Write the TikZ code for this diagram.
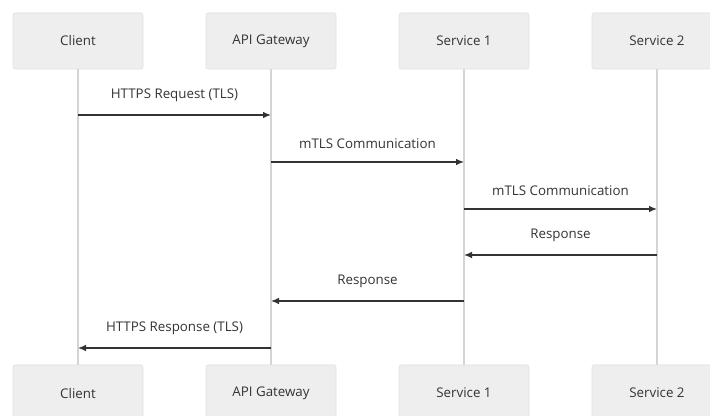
\documentclass[tikz,border=0pt]{standalone}
\usepackage{fontspec}
\setmainfont{Open Sans}
\usetikzlibrary{arrows.meta}
\definecolor{boxfill}{HTML}{EEEEEE}
\definecolor{boxline}{HTML}{E0E0E0}
\definecolor{lifeline}{HTML}{D4D4D4}
\definecolor{msgline}{HTML}{333333}
\tikzset{
  actor/.style={fill=boxfill,draw=boxline,rounded corners=1.5pt,minimum width=97.5pt,
    minimum height=42pt,inner sep=0pt,text=msgline,font=\fontsize{10}{12}\selectfont},
  life/.style={draw=lifeline,line width=0.8pt},
  msg/.style={draw=msgline,line width=1pt,-{Latex[length=6pt,width=5pt]}},
  msglabel/.style={text=msgline,font=\fontsize{10}{12}\selectfont,above=6pt}
}
\begin{document}
\begin{tikzpicture}[x=0.75pt,y=-0.75pt]
  \useasboundingbox (0,0) rectangle (710,416);
  \clip (0,0) rectangle (710,416);
  % lifelines first, boxes on top
  \draw[life] (78,41)--(78,393);
  \draw[life] (271,41)--(271,393);
  \draw[life] (464,41)--(464,393);
  \draw[life] (657,41)--(657,393);
  % participants, head and foot
  \node[actor] (c)  at (78,41)  {Client};
  \node[actor] (g)  at (271,41) {API Gateway};
  \node[actor] (s1) at (464,41) {Service 1};
  \node[actor] (s2) at (657,41) {Service 2};
  \node[actor] (cb)  at (78,393)  {Client};
  \node[actor] (gb)  at (271,393) {API Gateway};
  \node[actor] (s1b) at (464,393) {Service 1};
  \node[actor] (s2b) at (657,393) {Service 2};
  % message ends on the lifelines
  \coordinate (m1a) at (c |- 0,115);  \coordinate (m1b) at (g |- 0,115);
  \coordinate (m2a) at (g |- 0,162);  \coordinate (m2b) at (s1 |- 0,162);
  \coordinate (m3a) at (s1 |- 0,209); \coordinate (m3b) at (s2 |- 0,209);
  \coordinate (m4a) at (s2 |- 0,255); \coordinate (m4b) at (s1 |- 0,255);
  \coordinate (m5a) at (s1 |- 0,301); \coordinate (m5b) at (g |- 0,301);
  \coordinate (m6a) at (g |- 0,348);  \coordinate (m6b) at (c |- 0,348);
  \draw[msg] (m1a) -- node[msglabel] {HTTPS Request (TLS)} (m1b);
  \draw[msg] (m2a) -- node[msglabel] {mTLS Communication} (m2b);
  \draw[msg] (m3a) -- node[msglabel] {mTLS Communication} (m3b);
  \draw[msg] (m4a) -- node[msglabel] {Response} (m4b);
  \draw[msg] (m5a) -- node[msglabel] {Response} (m5b);
  \draw[msg] (m6a) -- node[msglabel] {HTTPS Response (TLS)} (m6b);
\end{tikzpicture}
\end{document}
